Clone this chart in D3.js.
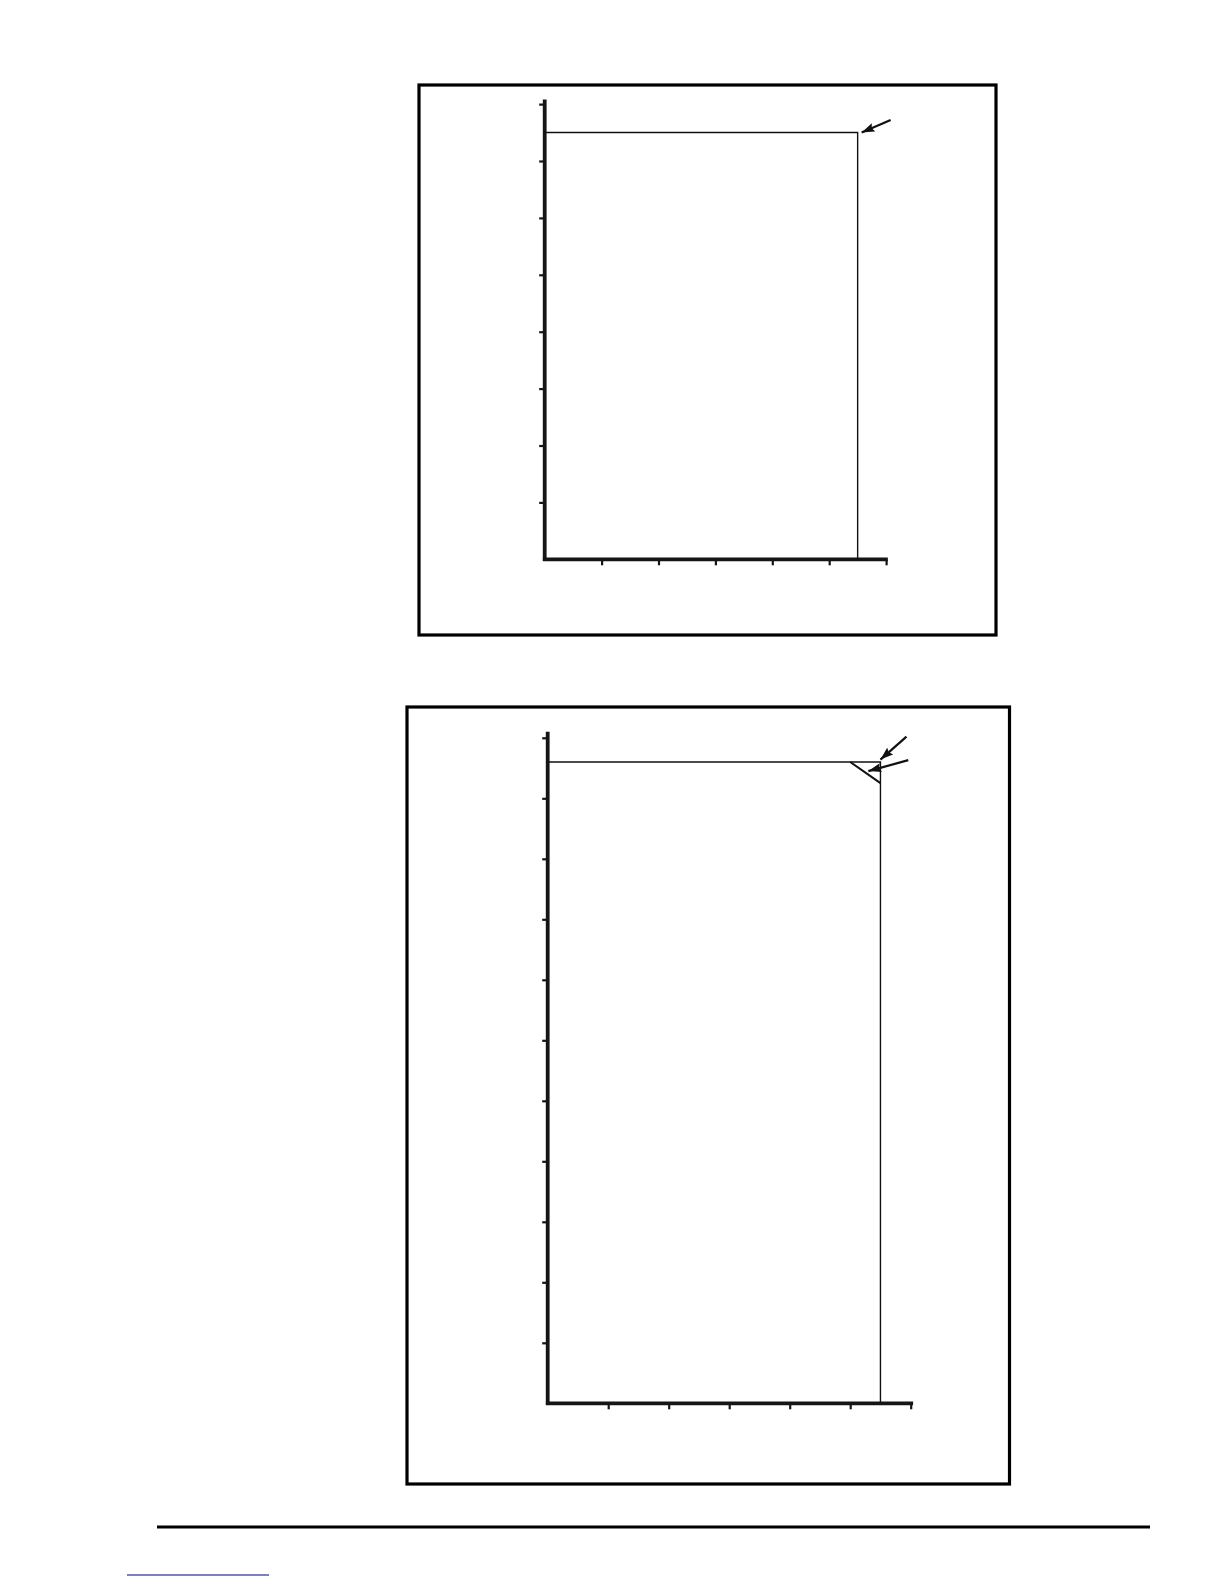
<!DOCTYPE html>
<html>
<head>
<meta charset="utf-8">
<style>
  body { margin: 0; background: #fff; }
  svg { display: block; }
  .frame { fill: none; stroke: #000; stroke-width: 3.2; }
  .axis line { stroke: #151515; stroke-width: 2.2; }
  .axisline { stroke: #151515; stroke-width: 3.8; }
  .curve { fill: none; stroke: #111; stroke-width: 1.4; }
  .chamfer { fill: none; stroke: #111; stroke-width: 2; }
  .arrow { stroke: #111; stroke-width: 2.2; }
</style>
</head>
<body>
<svg id="page" width="1224" height="1584"></svg>
<script src="https://cdnjs.cloudflare.com/ajax/libs/d3/7.8.5/d3.min.js"></script>
<script>
// tick values (no labels in the original)
var xTicks1 = [1, 2, 3, 4, 5, 6];
var yTicks1 = [1, 2, 3, 4, 5, 6, 7, 8];
var xTicks2 = [1, 2, 3, 4, 5, 6];
var yTicks2 = [1, 2, 3, 4, 5, 6, 7, 8, 9, 10, 11];

// outline curves, in axis units
var curve1 = [[0, 7.5], [5.5, 7.5], [5.5, 0]];
var curve2 = [[0, 10.6], [5.5, 10.6], [5.5, 0]];
var chamfer2 = [[5.0, 10.6], [5.5, 10.25]];

// annotation arrows: [tail, head]
var arrows1 = [[[6.08, 7.72], [5.57, 7.5]]];
var arrows2 = [
  [[5.93, 11.02], [5.5, 10.64]],
  [[5.96, 10.63], [5.3, 10.45]]
];

var svg = d3.select('#page');

svg.append('defs').append('marker')
  .attr('id', 'head')
  .attr('viewBox', '0 0 13 9')
  .attr('refX', 13)
  .attr('refY', 4.5)
  .attr('markerWidth', 13)
  .attr('markerHeight', 9)
  .attr('markerUnits', 'userSpaceOnUse')
  .attr('orient', 'auto')
  .append('path')
  .attr('d', 'M0,0 L13,4.5 L0,9 L2,4.5 Z')
  .style('fill', '#111');

function drawChart(opt) {
  var g = svg.append('g');

  g.append('rect')
    .attr('class', 'frame')
    .attr('x', opt.box[0])
    .attr('y', opt.box[1])
    .attr('width', opt.box[2] - opt.box[0])
    .attr('height', opt.box[3] - opt.box[1]);

  var x = d3.scaleLinear()
    .domain([0, opt.xMax])
    .range([opt.ox, opt.ox + opt.xMax * opt.unit]);
  var y = d3.scaleLinear()
    .domain([0, opt.yMax])
    .range([opt.oy, opt.oy - opt.yMax * opt.unit]);

  var yAxis = g.append('g')
    .attr('class', 'axis')
    .attr('transform', 'translate(' + opt.ox + ',0)')
    .call(d3.axisLeft(y).tickValues(opt.yTicks).tickSize(5.5).tickSizeOuter(0).tickFormat(''));
  yAxis.select('.domain').remove();

  var xAxis = g.append('g')
    .attr('class', 'axis')
    .attr('transform', 'translate(0,' + opt.oy + ')')
    .call(d3.axisBottom(x).tickValues(opt.xTicks).tickSize(6).tickSizeOuter(0).tickFormat(''));
  xAxis.select('.domain').remove();

  g.append('line')
    .attr('class', 'axisline')
    .attr('x1', x(0)).attr('x2', x(0))
    .attr('y1', y(0) + 1.8).attr('y2', y(opt.yAxisTop));
  g.append('line')
    .attr('class', 'axisline')
    .attr('x1', x(0) - 1.8).attr('x2', x(opt.xAxisEnd))
    .attr('y1', y(0)).attr('y2', y(0));

  var line = d3.line()
    .x(function(d) { return x(d[0]); })
    .y(function(d) { return y(d[1]); });

  g.append('path')
    .attr('class', 'curve')
    .attr('d', line(opt.curve));

  if (opt.chamfer) {
    g.append('path')
      .attr('class', 'chamfer')
      .attr('d', line(opt.chamfer));
  }

  g.selectAll('.arrow')
    .data(opt.arrows)
    .enter()
    .append('line')
    .attr('class', 'arrow')
    .attr('x1', function(d) { return x(d[0][0]); })
    .attr('y1', function(d) { return y(d[0][1]); })
    .attr('x2', function(d) { return x(d[1][0]); })
    .attr('y2', function(d) { return y(d[1][1]); })
    .attr('marker-end', 'url(#head)');
}

drawChart({
  box: [419, 85, 996, 635],
  ox: 544.7, oy: 559.3, unit: 56.9,
  xMax: 6, yMax: 8, yAxisTop: 8.08, xAxisEnd: 6.03,
  xTicks: xTicks1, yTicks: yTicks1,
  curve: curve1, chamfer: null, arrows: arrows1
});

drawChart({
  box: [407, 707, 1009.5, 1484],
  ox: 547.7, oy: 1403.3, unit: 60.5,
  xMax: 6, yMax: 11, yAxisTop: 11.1, xAxisEnd: 6.04,
  xTicks: xTicks2, yTicks: yTicks2,
  curve: curve2, chamfer: chamfer2, arrows: arrows2
});

// page footer rule and link underline
svg.append('line')
  .attr('x1', 157).attr('x2', 1150)
  .attr('y1', 1527).attr('y2', 1527)
  .style('stroke', '#000').style('stroke-width', 3.2);
svg.append('line')
  .attr('x1', 127).attr('x2', 269)
  .attr('y1', 1575).attr('y2', 1575)
  .style('stroke', '#000080').style('stroke-width', 1.2);
</script>
</body>
</html>
